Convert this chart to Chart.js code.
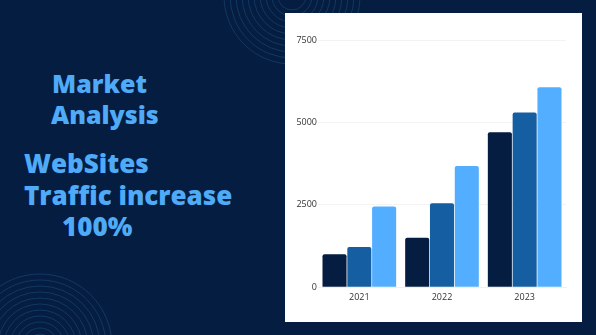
<!DOCTYPE html>
<html>
<head>
<meta charset="utf-8">
<script src="https://cdn.jsdelivr.net/npm/chart.js@4"></script>
<style>
  html, body { margin:0; padding:0; }
  body { width:596px; height:335px; background:#041d40; position:relative; overflow:hidden; }
  .rings { position:absolute; left:0; top:0; }
  .txt { position:absolute; color:#4faaf8; font-family:'Open Sans', sans-serif; font-weight:800; line-height:1; white-space:nowrap; font-size:25px; }
  .big { font-size:26px; }
  .panel { position:absolute; left:285px; top:13px; width:297px; height:309px; background:#fff; }
</style>
</head>
<body>
<svg class="rings" width="596" height="335" id="rings"></svg>

<div class="txt" style="left:52px; top:71px;">Market</div>
<div class="txt" style="left:51px; top:102px;">Analysis</div>
<div class="txt big" style="left:24px; top:150px;">WebSites</div>
<div class="txt big" style="left:24px; top:182px;">Traffic increase</div>
<div class="txt big" style="left:62px; top:213px;">100%</div>

<div class="panel"><canvas id="bars" width="297" height="309"></canvas></div>

<script>
const years = ['2021', '2022', '2023'];
const seriesA = [1000, 1500, 4700];
const seriesB = [1220, 2550, 5300];
const seriesC = [2450, 3680, 6070];
const yTicks = [0, 2500, 5000, 7500];

// background ring decorations
const svg = document.getElementById('rings');
function rings(cx, cy, from, to, step){
  for (let r = from; r <= to; r += step) {
    const c = document.createElementNS('http://www.w3.org/2000/svg', 'circle');
    c.setAttribute('cx', cx); c.setAttribute('cy', cy); c.setAttribute('r', r);
    c.setAttribute('fill', 'none'); c.setAttribute('stroke', '#1f4d7c');
    c.setAttribute('stroke-width', '0.8'); c.setAttribute('opacity', '0.7');
    svg.appendChild(c);
  }
}
rings(292, -4, 14, 70, 6);
rings(40, 346, 12, 72, 6);

const tickFont = { family:'Open Sans', size:9 };

new Chart(document.getElementById('bars'), {
  type:'bar',
  data:{
    labels: years,
    datasets:[
      { data: seriesA, backgroundColor:'#041d40' },
      { data: seriesB, backgroundColor:'#155ea1' },
      { data: seriesC, backgroundColor:'#54aeff' }
    ]
  },
  options:{
    responsive:false,
    animation:false,
    layout:{ padding:{ top:27, right:16, bottom:14, left:0 } },
    datasets:{ bar:{ categoryPercentage:0.9, barPercentage:0.97, borderRadius:2 } },
    plugins:{ legend:{ display:false }, tooltip:{ enabled:false } },
    scales:{
      x:{
        grid:{ display:false, drawTicks:false },
        border:{ color:'#f0f0f0' },
        ticks:{ color:'#333', font:tickFont, padding:5 }
      },
      y:{
        min:0, max:7500,
        afterBuildTicks: s => { s.ticks = yTicks.map(v => ({ value:v })); },
        afterFit: s => { s.width = 33; },
        grid:{ color:'#f3f3f3', drawTicks:false },
        border:{ display:false },
        ticks:{ color:'#333', font:tickFont, padding:1, callback: v => String(v) }
      }
    }
  }
});
</script>
</body>
</html>
